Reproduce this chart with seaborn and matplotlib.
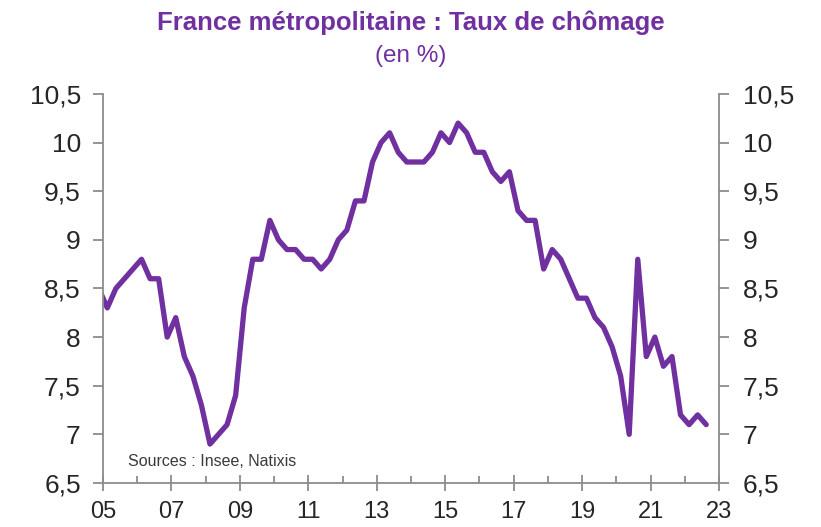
import numpy as np
import pandas as pd
import matplotlib
matplotlib.use("Agg")
import matplotlib.pyplot as plt
from matplotlib.ticker import FixedLocator, FuncFormatter
import seaborn as sns

# quarterly unemployment rate, France metropolitaine (%), 2004Q4 -> 2022Q3
start_year = 2004
start_quarter = 4
taux = [
    8.5,
    8.3, 8.5, 8.6, 8.7,
    8.8, 8.6, 8.6, 8.0,
    8.2, 7.8, 7.6, 7.3,
    6.9, 7.0, 7.1, 7.4,
    8.3, 8.8, 8.8, 9.2,
    9.0, 8.9, 8.9, 8.8,
    8.8, 8.7, 8.8, 9.0,
    9.1, 9.4, 9.4, 9.8,
    10.0, 10.1, 9.9, 9.8,
    9.8, 9.8, 9.9, 10.1,
    10.0, 10.2, 10.1, 9.9,
    9.9, 9.7, 9.6, 9.7,
    9.3, 9.2, 9.2, 8.7,
    8.9, 8.8, 8.6, 8.4,
    8.4, 8.2, 8.1, 7.9,
    7.6, 7.0, 8.8, 7.8,
    8.0, 7.7, 7.8, 7.2,
    7.1, 7.2, 7.1,
]
year_ticks = list(range(2005, 2024, 2))
year_labels = [f"{y % 100:02d}" for y in year_ticks]
y_ticks = [6.5, 7, 7.5, 8, 8.5, 9, 9.5, 10, 10.5]

title = "France métropolitaine : Taux de chômage"
subtitle = "(en %)"
source = "Sources : Insee, Natixis"

purple = "#7030A0"
grey = "#8c8c8c"

# middle of each quarter
q0 = start_year + (start_quarter - 1) / 4
dates = q0 + 0.125 + 0.25 * np.arange(len(taux))
df = pd.DataFrame({"date": dates, "taux": taux})

sns.set_theme(style="white")
plt.rcParams["font.family"] = ["Liberation Sans", "DejaVu Sans"]

fig = plt.figure(figsize=(8.21, 5.27), dpi=100)
ax = fig.add_axes([0.1255, 0.0835, 0.7503, 0.7383])

sns.lineplot(data=df, x="date", y="taux", ax=ax, color=purple, linewidth=3.8)

ax.set_xlim(2005, 2023)
ax.set_ylim(6.5, 10.5)
ax.set_xlabel("")
ax.set_ylabel("")

fmt = FuncFormatter(lambda v, p: f"{v:g}".replace(".", ","))

ax.xaxis.set_major_locator(FixedLocator(year_ticks))
ax.xaxis.set_minor_locator(FixedLocator(range(2006, 2023, 2)))
ax.set_xticklabels(year_labels)
ax.set_yticks(y_ticks)
ax.yaxis.set_major_formatter(fmt)

ax.tick_params(axis="x", which="major", direction="inout", length=12, width=1.3,
               color=grey, labelsize=17, pad=7, bottom=True)
ax.tick_params(axis="x", which="minor", direction="in", length=5, width=1.3,
               color=grey, bottom=True)
ax.tick_params(axis="y", direction="out", length=7, width=1.3, color=grey,
               labelsize=19, pad=9, left=True)

ax2 = ax.twinx()
ax2.set_ylim(6.5, 10.5)
ax2.set_yticks(y_ticks)
ax2.yaxis.set_major_formatter(fmt)
ax2.tick_params(axis="y", direction="out", length=7, width=1.3, color=grey,
                labelsize=19, pad=10, right=True)

for a in (ax, ax2):
    a.spines["top"].set_visible(False)
    for s in ("left", "right", "bottom"):
        a.spines[s].set_color(grey)
        a.spines[s].set_linewidth(1.3)
ax.spines["right"].set_visible(False)
ax2.spines["left"].set_visible(False)
ax2.spines["bottom"].set_visible(False)

fig.text(0.5, 0.956, title, ha="center", va="center", fontsize=18.5,
         fontweight="bold", color=purple)
fig.text(0.5, 0.893, subtitle, ha="center", va="center", fontsize=17.5,
         color=purple)
ax.text(0.04, 0.055, source, transform=ax.transAxes, ha="left", va="center",
        fontsize=11.5, color="#3a3a3a")

fig.savefig("out.png", dpi=100)
